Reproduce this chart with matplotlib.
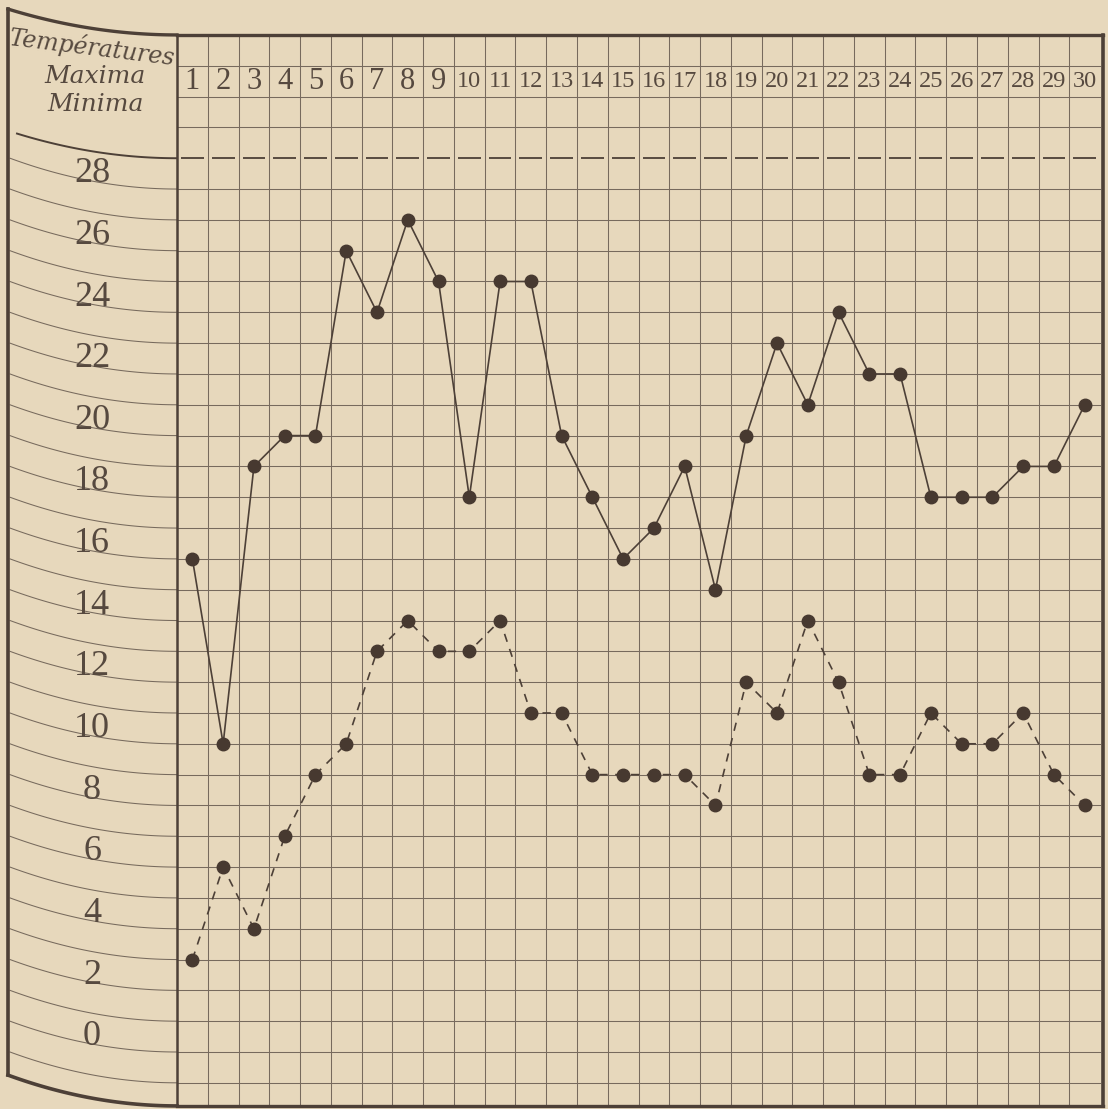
import numpy as np
import matplotlib
matplotlib.use("Agg")
import matplotlib.pyplot as plt

# ---- data -------------------------------------------------------------
days = list(range(1, 31))
t_max = [16, 10, 19, 20, 20, 26, 24, 27, 25, 18, 25, 25, 20, 18, 16,
         17, 19, 15, 20, 23, 21, 24, 22, 22, 18, 18, 18, 19, 19, 21]
t_min = [3, 6, 4, 7, 9, 10, 13, 14, 13, 13, 14, 11, 11, 9, 9,
         9, 9, 8, 12, 11, 14, 12, 9, 9, 11, 10, 10, 11, 9, 8]
y_labels = [28, 26, 24, 22, 20, 18, 16, 14, 12, 10, 8, 6, 4, 2, 0]
header_lines = ["Températures", "Maxima", "Minima"]

# ---- style ------------------------------------------------------------
paper = "#e7d8bc"
ink = "#4d4037"
grid_c = "#776a5d"
text_c = "#56493f"

W, H, DPI = 1108, 1109, 100
fig = plt.figure(figsize=(W / DPI, H / DPI), dpi=DPI, facecolor=paper)
ax = fig.add_axes([0, 0, 1, 1])
ax.set_facecolor(paper)
ax.axis("off")

# pixel geometry -> data limits
x0_pix, colw = 177.0, 30.77
y0_pix, rowh = 1052.0, 30.82
ax.set_xlim(-x0_pix / colw, (W - x0_pix) / colw)
ax.set_ylim(-(H - y0_pix) / rowh, y0_pix / rowh)

n = len(days)
x_left_panel = -167.0 / colw      # outer left border (x pixel ~10)
top_val = 33.0
bot_val = -1.75

# ---- grid ---------------------------------------------------------------
for k in range(1, n):
    ax.plot([k, k], [bot_val, top_val], color=grid_c, lw=0.75, zorder=1)
for v in list(range(-1, 29)) + [30, 31, 32]:
    ax.plot([0, n], [v, v], color=grid_c, lw=0.75, zorder=1)
# dashed line at 29: one dash per column
for d in days:
    ax.plot([d - 1 + 0.13, d - 0.13], [29, 29], color=ink, lw=1.3,
            solid_capstyle="butt", zorder=2)

# frame
ax.plot([0, 0], [bot_val, top_val], color=ink, lw=1.8, zorder=3)
ax.plot([0, n + 0.08], [top_val, top_val], color=ink, lw=2.4, zorder=3)
ax.plot([0, n + 0.08], [bot_val, bot_val], color=ink, lw=2.4, zorder=3)
ax.plot([n + 0.08, n + 0.08], [bot_val, top_val], color=ink, lw=2.6, zorder=3)

# ---- left panel curved lines ---------------------------------------------
def curve(v_end, drop, xs_start=x_left_panel):
    t = np.linspace(0, 1, 60)
    xs = xs_start + (0 - xs_start) * t
    ys = v_end + drop * (1 - t) ** 2
    return xs, ys

for v in range(-1, 29):
    xs, ys = curve(v, 1.0)
    ax.plot(xs, ys, color=grid_c, lw=0.75, zorder=1)
xs, ys = curve(29, 0.8, xs_start=-160.0 / colw)
ax.plot(xs, ys, color=ink, lw=1.4, zorder=2)

# outer curved top and bottom + left border
x_out = -169.0 / colw
t = np.linspace(0, 1, 80)
xs = x_out + (0 - x_out) * t
ax.plot(xs, top_val + 0.84 * (1 - t) ** 2, color=ink, lw=2.4, zorder=3)
ax.plot(xs, bot_val + 1.0 * (1 - t) ** 2, color=ink, lw=2.6, zorder=3)
ax.plot([x_out, x_out], [bot_val + 1.0, top_val + 0.84], color=ink, lw=2.6, zorder=3)

# ---- labels ----------------------------------------------------------------
lab_x = (92 - x0_pix) / colw
for v in y_labels:
    ax.text(lab_x, v + 0.22, str(v), ha="center", va="baseline",
            fontsize=26, family="Liberation Serif", color=text_c, zorder=4)

for d in days:
    fs = 22 if d < 10 else 17.5
    ax.text(d - 0.5, 31.5, str(d), ha="center", va="center",
            fontsize=fs, family="Liberation Serif", color=text_c, zorder=4)

hx = (92 - x0_pix) / colw
ax.text(hx, 32.6, header_lines[0], ha="center", va="center", rotation=-7,
        fontsize=17, family="DejaVu Serif", style="italic", color=text_c, zorder=4)
ax.text(hx + 0.1, 31.65, header_lines[1], ha="center", va="center",
        fontsize=18, family="DejaVu Serif", style="italic", color=text_c, zorder=4)
ax.text(hx + 0.1, 30.75, header_lines[2], ha="center", va="center",
        fontsize=18, family="DejaVu Serif", style="italic", color=text_c, zorder=4)

# ---- series ------------------------------------------------------------------
xd = np.array(days) - 0.5
ax.plot(xd, t_max, color=ink, lw=1.2, zorder=5)
ax.plot(xd, t_max, "o", ms=9, color="#473930", zorder=6)
ax.plot(xd, t_min, color=ink, lw=1.2, linestyle=(0, (5, 4.5)), zorder=5)
ax.plot(xd, t_min, "o", ms=9, color="#473930", zorder=6)

fig.savefig("out.png", dpi=DPI, facecolor=paper)
